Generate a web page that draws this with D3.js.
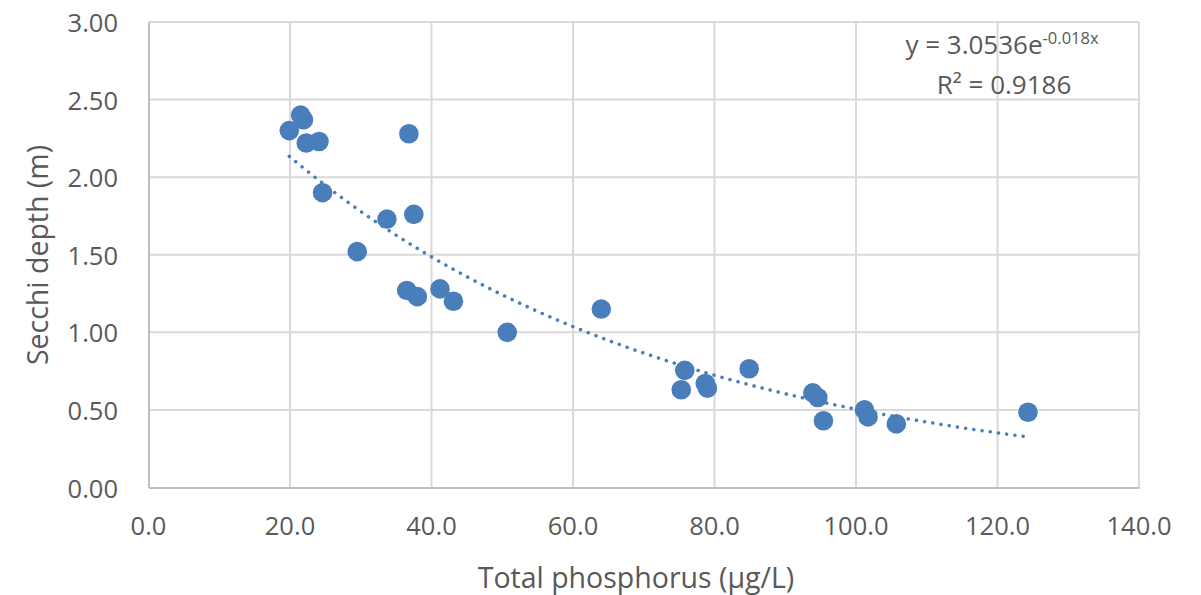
<!DOCTYPE html>
<html>
<head>
<meta charset="utf-8">
<script src="https://cdn.jsdelivr.net/npm/d3@7/dist/d3.min.js"></script>
<style>
  html, body { margin: 0; padding: 0; background: #ffffff; }
  svg { display: block; }
  text { font-family: "Open Sans", "Noto Sans", sans-serif; fill: #595959; }
</style>
</head>
<body>
<svg id="chart" width="1201" height="595"></svg>
<script>
// Total phosphorus (µg/L) and Secchi depth (m) per sample
const totalPhosphorus = [19.9, 21.5, 21.9, 22.3, 24.1, 24.6, 29.5, 33.7, 36.8, 37.5,
                         36.5, 38.0, 41.2, 43.1, 50.7, 64.0, 75.8, 75.3, 78.7, 79.0,
                         84.9, 93.9, 94.6, 95.4, 101.2, 101.7, 105.7, 124.3];
const secchiDepth     = [2.30, 2.40, 2.37, 2.22, 2.23, 1.90, 1.52, 1.73, 2.28, 1.76,
                         1.27, 1.23, 1.28, 1.20, 1.00, 1.15, 0.755, 0.63, 0.67, 0.64,
                         0.765, 0.61, 0.58, 0.43, 0.50, 0.455, 0.41, 0.485];

// Axis ticks
const xTicks = [0, 20, 40, 60, 80, 100, 120, 140];
const yTicks = [0, 0.5, 1.0, 1.5, 2.0, 2.5, 3.0];

// Exponential trendline y = a·e^(b·x)
const trendA = 3.0536;
const trendB = -0.018;
const trendR2 = 0.9186;

const svg = d3.select("#chart");

const x = d3.scaleLinear().domain([0, 140]).range([148.5, 1139]);
const y = d3.scaleLinear().domain([0, 3]).range([487.5, 22]);

// Gridlines
const grid = svg.append("g");
grid.selectAll("line.v").data(xTicks.filter(d => d > 0)).join("line")
  .attr("x1", d => x(d)).attr("x2", d => x(d))
  .attr("y1", y(0)).attr("y2", y(3))
  .attr("stroke", "#d9d9d9").attr("stroke-width", 2);
grid.selectAll("line.h").data(yTicks.filter(d => d > 0)).join("line")
  .attr("x1", x(0)).attr("x2", x(140))
  .attr("y1", d => y(d)).attr("y2", d => y(d))
  .attr("stroke", "#d9d9d9").attr("stroke-width", 2);

// Axes (lines only, labels drawn below)
const xAxis = svg.append("g").attr("transform", `translate(0,${y(0)})`)
  .call(d3.axisBottom(x).tickValues(xTicks).tickSize(0).tickFormat(""));
xAxis.select(".domain").attr("stroke", "#bfbfbf").attr("stroke-width", 2);
const yAxis = svg.append("g").attr("transform", `translate(${x(0)},0)`)
  .call(d3.axisLeft(y).tickValues(yTicks).tickSize(0).tickFormat(""));
yAxis.select(".domain").attr("stroke", "#bfbfbf").attr("stroke-width", 2);

// Tick labels
svg.append("g").selectAll("text").data(xTicks).join("text")
  .attr("x", d => x(d)).attr("y", 525)
  .attr("text-anchor", "middle").attr("dominant-baseline", "central")
  .attr("font-size", 25.5)
  .text(d => d3.format(".1f")(d));
svg.append("g").selectAll("text").data(yTicks).join("text")
  .attr("x", 118).attr("y", d => y(d))
  .attr("text-anchor", "end").attr("dominant-baseline", "central")
  .attr("font-size", 25.5)
  .text(d => d3.format(".2f")(d));

// Axis titles
svg.append("text")
  .attr("x", 636).attr("y", 577)
  .attr("text-anchor", "middle").attr("dominant-baseline", "central")
  .attr("font-size", 28.5)
  .text("Total phosphorus (μg/L)");
svg.append("text")
  .attr("transform", "translate(37,255) rotate(-90)")
  .attr("text-anchor", "middle").attr("dominant-baseline", "central")
  .attr("font-size", 28.5)
  .text("Secchi depth (m)");

// Trendline over the range of the data
const [xMin, xMax] = d3.extent(totalPhosphorus);
const trendX = d3.range(xMin, xMax, 0.5).concat([xMax]);
const line = d3.line().x(d => x(d)).y(d => y(trendA * Math.exp(trendB * d)));
svg.append("path")
  .datum(trendX)
  .attr("d", line)
  .attr("fill", "none")
  .attr("stroke", "#4a7ebb")
  .attr("stroke-width", 3.5)
  .attr("stroke-linecap", "round")
  .attr("stroke-dasharray", "0.1 8.2");

// Points
const pts = totalPhosphorus.map((d, i) => ({ tp: d, sd: secchiDepth[i] }));
svg.append("g").selectAll("circle").data(pts).join("circle")
  .attr("cx", d => x(d.tp)).attr("cy", d => y(d.sd))
  .attr("r", 9.8)
  .attr("fill", "#4a7ebb");

// Trendline equation
const eq = svg.append("text")
  .attr("x", 1002).attr("y", 54)
  .attr("text-anchor", "middle")
  .attr("font-size", 26);
eq.append("tspan").text(`y = ${trendA}e`);
eq.append("tspan").attr("dy", -10).attr("font-size", 16.5).text(`${trendB}x`);

const r2 = svg.append("text")
  .attr("x", 1004).attr("y", 94)
  .attr("text-anchor", "middle")
  .attr("font-size", 26);
r2.append("tspan").text(`R² = ${trendR2}`);
</script>
</body>
</html>
